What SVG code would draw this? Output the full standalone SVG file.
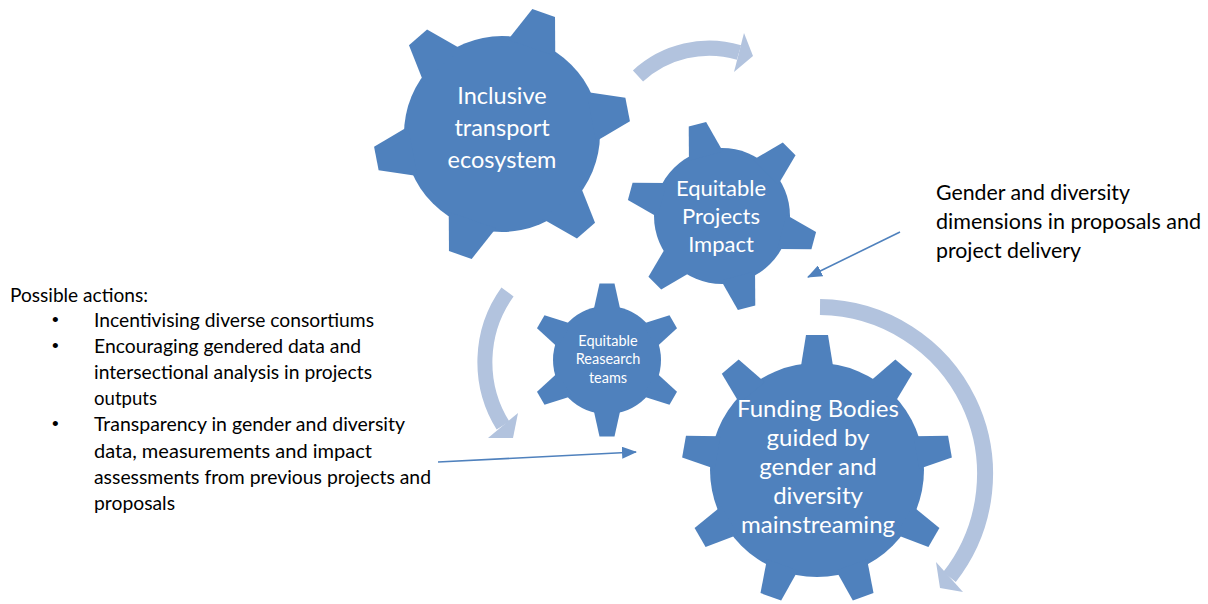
<svg xmlns="http://www.w3.org/2000/svg" xmlns:xlink="http://www.w3.org/1999/xlink" width="1208" height="604" viewBox="0 0 1208 604">
<style>
.gear{fill:#4F81BD}
.lbl{font-family:Lato,"Open Sans","Liberation Sans",sans-serif;fill:#FFFFFF;text-anchor:middle}
.txt{font-family:Lato,"Open Sans","Liberation Sans",sans-serif;fill:#000000}
.bul{font-family:"Liberation Sans",sans-serif;fill:#000000;font-size:19px}
.band{fill:none;stroke:#B2C3DE;stroke-width:15}
.head{fill:#B2C3DE}
.thin{fill:none;stroke:#4F81BD;stroke-width:1.6;marker-end:url(#ah)}
</style>
<defs>
<polygon id="t1" points="91,-25 128,-12 128,12 91,25"/>
<polygon id="t2" points="62,-17.6 95,-9 95,9 62,17.6"/>
<polygon id="t3" points="49,-13.6 76.5,-7.5 76.5,7.5 49,13.6"/>
<polygon id="t4" points="101,-16.5 135,-11 135,11 101,16.5"/>
<marker id="ah" viewBox="0 0 15 12" refX="14" refY="6" markerWidth="15" markerHeight="12" markerUnits="userSpaceOnUse" orient="auto">
<path d="M0,0 L15,6 L0,12 z" fill="#4F81BD"/>
</marker>
</defs>

<g id="connectors">
<g id="arrow-top">
<path class="band" d="M638,76 A105,105 0 0 1 739,52.5"/>
<polygon class="head" points="744,33 753,56 734,72"/>
</g>
<g id="arrow-left">
<path class="band" d="M507.5,292 A120,120 0 0 0 503,425.5"/>
<polygon class="head" points="518,413 513,438 488,438"/>
</g>
<g id="arrow-right">
<path class="band" style="stroke-width:16" d="M820,307 A167,167 0 0 1 949.5,577"/>
<polygon class="head" points="936,562 963,592 940,588"/>
</g>
<line class="thin" x1="900" y1="232" x2="808" y2="277"/>
<line class="thin" x1="438" y1="462" x2="636" y2="452"/>
</g>

<g id="gear-inclusive">
<g class="gear" transform="translate(502,134)">
<circle r="98"/>
<use xlink:href="#t1" transform="rotate(-71)"/>
<use xlink:href="#t1" transform="rotate(-11)"/>
<use xlink:href="#t1" transform="rotate(49)"/>
<use xlink:href="#t1" transform="rotate(109)"/>
<use xlink:href="#t1" transform="rotate(169)"/>
<use xlink:href="#t1" transform="rotate(229)"/>
</g>
<text class="lbl" font-size="23.5" x="502" y="104">Inclusive</text>
<text class="lbl" font-size="23.5" x="502" y="136">transport</text>
<text class="lbl" font-size="23.5" x="502" y="168">ecosystem</text>
</g>

<g id="gear-projects">
<g class="gear" transform="translate(722,216)">
<circle r="68"/>
<use xlink:href="#t2" transform="rotate(-105)"/>
<use xlink:href="#t2" transform="rotate(-45)"/>
<use xlink:href="#t2" transform="rotate(15)"/>
<use xlink:href="#t2" transform="rotate(75)"/>
<use xlink:href="#t2" transform="rotate(135)"/>
<use xlink:href="#t2" transform="rotate(195)"/>
</g>
<text class="lbl" font-size="22" x="721" y="196">Equitable</text>
<text class="lbl" font-size="22" x="721" y="224">Projects</text>
<text class="lbl" font-size="22" x="721" y="252">Impact</text>
</g>

<g id="gear-research">
<g class="gear" transform="translate(607,360)">
<circle r="54"/>
<use xlink:href="#t3" transform="rotate(-90)"/>
<use xlink:href="#t3" transform="rotate(-30)"/>
<use xlink:href="#t3" transform="rotate(30)"/>
<use xlink:href="#t3" transform="rotate(90)"/>
<use xlink:href="#t3" transform="rotate(150)"/>
<use xlink:href="#t3" transform="rotate(210)"/>
</g>
<text class="lbl" font-size="14.5" x="608" y="346">Equitable</text>
<text class="lbl" font-size="14.5" x="608" y="364">Reasearch</text>
<text class="lbl" font-size="14.5" x="608" y="383">teams</text>
</g>

<g id="gear-funding">
<g class="gear" transform="translate(817,470)">
<circle r="107"/>
<use xlink:href="#t4" transform="rotate(-90)"/>
<use xlink:href="#t4" transform="rotate(-50)"/>
<use xlink:href="#t4" transform="rotate(-10)"/>
<use xlink:href="#t4" transform="rotate(30)"/>
<use xlink:href="#t4" transform="rotate(70)"/>
<use xlink:href="#t4" transform="rotate(110)"/>
<use xlink:href="#t4" transform="rotate(150)"/>
<use xlink:href="#t4" transform="rotate(190)"/>
<use xlink:href="#t4" transform="rotate(230)"/>
</g>
<text class="lbl" font-size="24" x="818" y="417">Funding Bodies</text>
<text class="lbl" font-size="24" x="818" y="446">guided by</text>
<text class="lbl" font-size="24" x="818" y="475">gender and</text>
<text class="lbl" font-size="24" x="818" y="504">diversity</text>
<text class="lbl" font-size="24" x="818" y="533">mainstreaming</text>
</g>

<g id="note-right">
<text class="txt" font-size="21" x="936" y="200" textLength="194" lengthAdjust="spacingAndGlyphs">Gender and diversity</text>
<text class="txt" font-size="21" x="936" y="229" textLength="265" lengthAdjust="spacingAndGlyphs">dimensions in proposals and</text>
<text class="txt" font-size="21" x="936" y="258" textLength="145" lengthAdjust="spacingAndGlyphs">project delivery</text>
</g>

<g id="note-left">
<text class="txt" font-size="19" x="10" y="302" textLength="138" lengthAdjust="spacingAndGlyphs">Possible actions:</text>
<text class="bul" x="52" y="326">•</text>
<text class="txt" font-size="19" x="94" y="327" textLength="280" lengthAdjust="spacingAndGlyphs">Incentivising diverse consortiums</text>
<text class="bul" x="52" y="352">•</text>
<text class="txt" font-size="19" x="94" y="353" textLength="267" lengthAdjust="spacingAndGlyphs">Encouraging gendered data and</text>
<text class="txt" font-size="19" x="94" y="379" textLength="278" lengthAdjust="spacingAndGlyphs">intersectional analysis in projects</text>
<text class="txt" font-size="19" x="94" y="405" textLength="63" lengthAdjust="spacingAndGlyphs">outputs</text>
<text class="bul" x="52" y="430">•</text>
<text class="txt" font-size="19" x="94" y="431" textLength="311" lengthAdjust="spacingAndGlyphs">Transparency in gender and diversity</text>
<text class="txt" font-size="19" x="94" y="458" textLength="278" lengthAdjust="spacingAndGlyphs">data, measurements and impact</text>
<text class="txt" font-size="19" x="94" y="484" textLength="337" lengthAdjust="spacingAndGlyphs">assessments from previous projects and</text>
<text class="txt" font-size="19" x="94" y="510" textLength="81" lengthAdjust="spacingAndGlyphs">proposals</text>
</g>
</svg>
